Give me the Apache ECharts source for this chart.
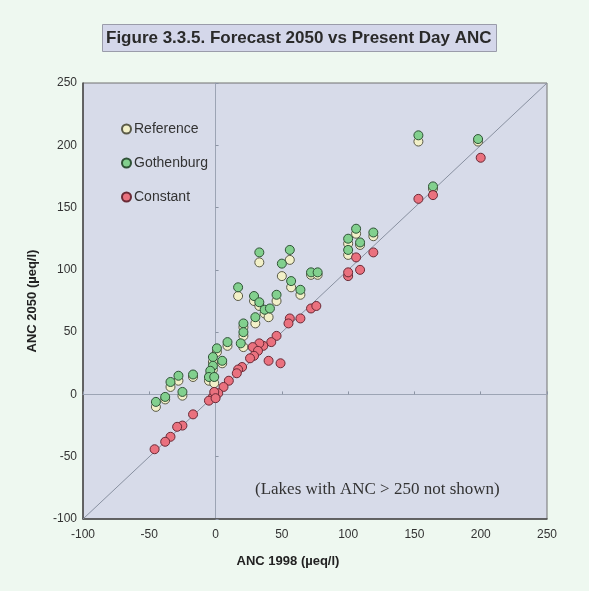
<!DOCTYPE html>
<html><head><meta charset="utf-8">
<script src="https://cdn.jsdelivr.net/npm/echarts@6/dist/echarts.min.js"></script>
<style>html,body{margin:0;padding:0;background:#eef8f0;}#c{width:589px;height:591px;}</style>
</head><body><div id="c"></div>
<script>
// ---- data ----
const axisTicks = [-100, -50, 0, 50, 100, 150, 200, 250];
const seriesNames = ['Reference', 'Gothenburg', 'Constant'];
const referenceData = [
  [198,203],[153,203],[164,165],[106,129],[119,127],[100,121],[109,120],[100,112],
  [72,96],[77,96],[56,108],[50,95],[57,86],[64,80],[33,106],[17,79],[29,75],[33,71],
  [46,75],[37,65],[40,62],[30,57],[21,54],[21,47],[21,38],[9,39],[1,34],[-2,26],[5,25],
  [-2,20],[-4,16],[-5,11],[-1,9],[-17,14],[-28,11],[-34,6],[-25,-1],[-38,-4],[-45,-10]
];
const gothenburgData = [
  [198,205],[153,208],[164,167],[106,133],[119,130],[100,125],[109,122],[100,116],
  [72,98],[77,98],[56,116],[50,105],[57,91],[64,84],[33,114],[17,86],[29,79],[33,74],
  [46,80],[37,68],[41,69],[30,62],[21,57],[21,50],[19,41],[9,42],[1,37],[-2,30],[5,27],
  [-2,23],[-4,19],[-5,14],[-1,14],[-17,16],[-28,15],[-34,10],[-25,2],[-38,-2],[-45,-6]
];
const constantData = [
  [200,190],[153,157],[164,160],[119,114],[106,110],[109,100],[100,95],[100,98],
  [72,69],[76,71],[64,61],[56,61],[55,57],[46,47],[42,42],[36,39],[33,41],[28,38],
  [32,35],[29,31],[26,29],[40,27],[49,25],[20,22],[17,20],[16,17],[10,11],[6,6],
  [2,1],[-1,-1],[-2,-2],[-5,-5],[-1,2],[0,-3],[-17,-16],[-25,-25],[-29,-26],
  [-34,-34],[-38,-38],[-46,-44]
];
const oneToOne = [[-100,-100],[250,250]];
const titleText = 'Figure 3.3.5. Forecast 2050 vs Present Day ANC';
const xName = 'ANC 1998 (\u00b5eq/l)';
const yName = 'ANC 2050 (\u00b5eq/l)';
const noteText = '(Lakes with ANC > 250 not shown)';

const chart = echarts.init(document.getElementById('c'), null, {renderer:'canvas'});
const axMin = axisTicks[0], axMax = axisTicks[axisTicks.length-1], axStep = axisTicks[1]-axisTicks[0];
const sans = 'Liberation Sans, Arial, sans-serif';

function mainAxis(extra){
  return Object.assign({
    type:'value', min:axMin, max:axMax, interval:axStep,
    axisLine:{onZero:false, lineStyle:{color:'#4a4a4a', width:1.5}},
    axisTick:{show:false}, splitLine:{show:false},
    axisLabel:{color:'#333', fontFamily:sans, fontSize:12}
  }, extra);
}
function zeroAxis(extra){
  return Object.assign({
    type:'value', min:axMin, max:axMax, interval:axStep,
    axisLine:{onZero:true, onZeroAxisIndex:0, lineStyle:{color:'#9ca4b4', width:1}},
    axisTick:{show:true, length:3, lineStyle:{color:'#8c94a4'}},
    axisLabel:{show:false}, splitLine:{show:false}
  }, extra);
}
const markerStyles = {
  Reference:{color:'#f2f0c8', borderColor:'#5a5a48'},
  Gothenburg:{color:'#82d08e', borderColor:'#2f5236'},
  Constant:{color:'#ea717e', borderColor:'#6a2a36'}
};
const dataMap = {Reference:referenceData, Gothenburg:gothenburgData, Constant:constantData};

chart.setOption({
  backgroundColor:'#eef8f0',
  animation:false,
  title:{
    text:titleText, left:102, top:24,
    padding:[6,5,5,4], backgroundColor:'#d4d7ea', borderColor:'#9a9caa', borderWidth:1,
    textStyle:{fontFamily:sans, fontSize:17, fontWeight:'bold', color:'#2a2a2a'}
  },
  grid:{left:83, right:42, top:83, bottom:72, show:true, backgroundColor:'#d7dbe9', borderColor:'#707070', borderWidth:1},
  xAxis:[
    mainAxis({name:xName, nameLocation:'middle', nameGap:36,
      nameTextStyle:{fontFamily:sans, fontSize:13, fontWeight:'bold', color:'#222', padding:[0,54,0,0]},
      axisLabel:{color:'#333', fontFamily:sans, fontSize:12, margin:10}}),
    zeroAxis({})
  ],
  yAxis:[
    mainAxis({name:yName, nameLocation:'middle', nameGap:44, nameRotate:90,
      nameTextStyle:{fontFamily:sans, fontSize:13, fontWeight:'bold', color:'#222'},
      axisLabel:{color:'#333', fontFamily:sans, fontSize:12, margin:6}}),
    zeroAxis({})
  ],
  legend:{
    orient:'vertical', left:116, top:117, itemWidth:9, itemHeight:9, itemGap:20,
    data:seriesNames.map(n=>({name:n, icon:'circle'})),
    textStyle:{fontFamily:sans, fontSize:14, color:'#333', padding:[0,0,0,-2]}
  },
  graphic:[
    {type:'rect', left:97, top:111, z:-1, shape:{width:135, height:102},
      style:{fill:'#eef8ee', stroke:'#a8acb8', lineWidth:1}},
    {type:'text', left:255, top:481, z:10,
      style:{text:noteText, font:'17px "Liberation Serif", "Times New Roman", serif', fill:'#333'}}
  ],
  series:[
    {type:'line', name:'1:1', data:oneToOne, symbol:'none', silent:true, z:1,
      lineStyle:{color:'#8890a0', width:1}},
    ...seriesNames.map(n=>({
      type:'scatter', name:n, data:dataMap[n], symbol:'circle', symbolSize:9, z:2,
      itemStyle:{color:markerStyles[n].color, borderColor:markerStyles[n].borderColor, borderWidth:1, opacity:1}
    }))
  ]
});
</script></body></html>
